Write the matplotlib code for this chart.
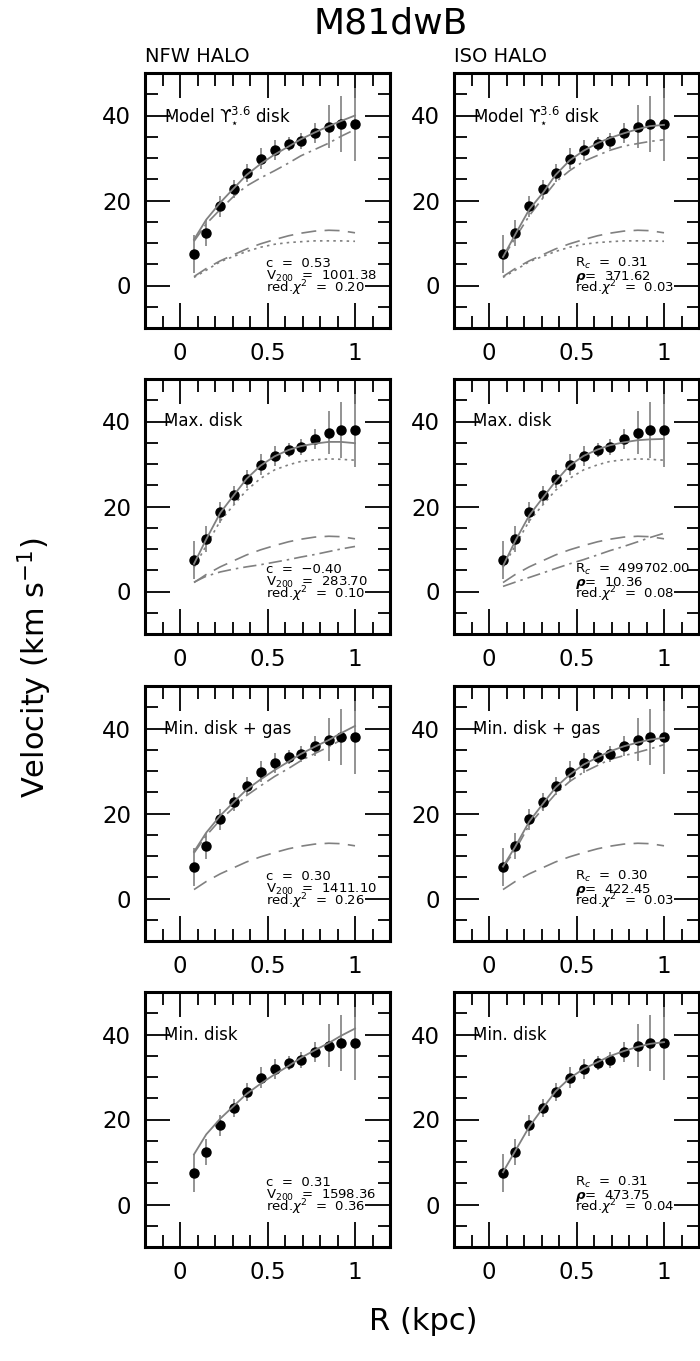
import matplotlib
matplotlib.use("Agg")
import matplotlib.pyplot as plt
import numpy as np

# observed rotation curve
r_kpc = [0.08, 0.15, 0.23, 0.31, 0.38, 0.46, 0.54, 0.62, 0.69, 0.77, 0.85, 0.92, 1.00]
v_obs = [7.5, 12.3, 18.6, 22.7, 26.5, 29.8, 31.9, 33.3, 34.0, 35.9, 37.4, 38.1, 37.9]
v_err = [4.5, 3.0, 2.4, 2.2, 2.2, 2.5, 2.4, 1.7, 1.8, 2.3, 5.0, 6.6, 8.6]

# baryons
v_gas = [2.1, 4.0, 5.8, 7.3, 8.6, 9.8, 10.8, 11.7, 12.3, 12.8, 13.0, 12.9, 12.4]
v_disk_model = [1.9, 3.6, 5.6, 6.9, 8.0, 9.0, 9.7, 10.1, 10.3, 10.5, 10.5, 10.5, 10.4]
v_disk_max = [5.7, 10.8, 16.6, 20.5, 23.8, 26.6, 28.6, 29.8, 30.6, 31.0, 31.2, 31.1, 30.9]

# NFW fits
nfw_model_halo = [10.4, 14.5, 17.9, 21.1, 23.4, 25.3, 27.0, 28.8, 30.5, 32.0, 33.5, 35.1, 36.7]
nfw_model_total = [10.8, 15.5, 19.5, 23.0, 26.0, 28.6, 30.8, 32.7, 34.4, 36.0, 37.5, 38.7, 40.0]
nfw_max_halo = [2.2, 3.6, 4.6, 5.3, 5.8, 6.3, 6.9, 7.5, 8.1, 8.7, 9.4, 10.0, 10.6]
nfw_max_total = [6.5, 12.3, 18.5, 22.8, 26.5, 29.6, 31.8, 33.3, 34.2, 34.8, 35.2, 35.2, 34.9]
nfw_gas_halo = [10.7, 14.8, 18.5, 21.5, 24.2, 26.5, 28.7, 30.6, 32.4, 34.1, 35.7, 37.3, 38.8]
nfw_gas_total = [11.0, 15.5, 19.5, 22.8, 25.6, 28.0, 30.2, 32.2, 34.0, 35.7, 37.3, 38.9, 40.6]
nfw_min_total = [11.8, 16.5, 20.2, 23.3, 26.0, 28.4, 30.6, 32.6, 34.5, 36.3, 38.0, 39.7, 41.4]

# ISO fits
iso_model_halo = [6.5, 11.2, 16.4, 20.7, 24.3, 27.0, 29.2, 30.6, 31.8, 32.8, 33.4, 33.9, 34.3]
iso_model_total = [6.7, 12.0, 17.9, 21.9, 26.0, 29.4, 31.7, 33.5, 34.7, 35.8, 36.8, 37.5, 37.8]
iso_max_halo = [1.2, 2.2, 3.3, 4.4, 5.4, 6.5, 7.5, 8.6, 9.6, 10.6, 11.7, 12.7, 13.7]
iso_max_total = [6.0, 11.9, 17.9, 22.2, 25.9, 29.6, 31.9, 33.4, 34.4, 35.1, 35.6, 35.8, 35.9]
iso_gas_halo = [7.3, 11.4, 17.3, 21.3, 24.6, 27.5, 29.7, 31.3, 32.7, 33.6, 34.4, 35.2, 36.2]
iso_gas_total = [7.5, 12.2, 18.1, 22.4, 26.1, 29.1, 31.5, 33.2, 34.6, 35.8, 36.7, 37.4, 37.8]
iso_min_total = [7.6, 12.6, 18.3, 22.8, 26.6, 29.7, 31.9, 33.5, 34.9, 36.1, 37.1, 37.8, 38.2]

row_labels = [r"Model $\mathrm{ϒ}_{\star}^{3.6}$ disk", "Max. disk", "Min. disk + gas", "Min. disk"]

nfw_c = ["0.53", "\u22120.40", "0.30", "0.31"]
nfw_v200 = ["1001.38", "283.70", "1411.10", "1598.36"]
nfw_chi2 = ["0.20", "0.10", "0.26", "0.36"]
iso_rc = ["0.31", "499702.00", "0.30", "0.31"]
iso_rho = ["371.62", "10.36", "422.45", "473.75"]
iso_chi2 = ["0.03", "0.08", "0.03", "0.04"]

GREY = "#808080"
W, H = 700, 1361
fig = plt.figure(figsize=(W / 100, H / 100), dpi=100)

row_tops = [73, 379, 686, 992]
col_lefts = [145, 454]
pw, ph = 245, 255

# per panel: (halo, total, disk, gas)
nfw_rows = [(nfw_model_halo, nfw_model_total, v_disk_model, v_gas),
            (nfw_max_halo, nfw_max_total, v_disk_max, v_gas),
            (nfw_gas_halo, nfw_gas_total, None, v_gas),
            (None, nfw_min_total, None, None)]
iso_rows = [(iso_model_halo, iso_model_total, v_disk_model, v_gas),
            (iso_max_halo, iso_max_total, v_disk_max, v_gas),
            (iso_gas_halo, iso_gas_total, None, v_gas),
            (None, iso_min_total, None, None)]


def draw_panel(ax, curves, label, params):
    halo, total, disk, gas = curves
    if disk is not None:
        ax.plot(r_kpc, disk, color=GREY, lw=1.2, dashes=(1.5, 2.5))
    if gas is not None:
        ax.plot(r_kpc, gas, color=GREY, lw=1.2, dashes=(9, 5))
    if halo is not None:
        ax.plot(r_kpc, halo, color=GREY, lw=1.2, dashes=(8, 3, 1.5, 3))
    ax.errorbar(r_kpc, v_obs, yerr=v_err, fmt="o", color="black", ms=6.5,
                ecolor=GREY, elinewidth=1.2, capsize=0, zorder=3)
    ax.plot(r_kpc, total, color=GREY, lw=1.3, zorder=4)

    ax.set_xlim(-0.2, 1.2)
    ax.set_ylim(-10, 50)
    ax.set_xticks([0, 0.5, 1])
    ax.set_xticklabels(["0", "0.5", "1"])
    ax.set_xticks(np.arange(-0.1, 1.2, 0.1), minor=True)
    ax.set_yticks([0, 20, 40])
    ax.set_yticks(np.arange(-5, 50, 5), minor=True)
    ax.tick_params(which="both", direction="in", top=True, right=True, width=1.3)
    ax.tick_params(which="major", length=18, labelsize=16.5, pad=10)
    ax.tick_params(which="minor", length=9)
    for s in ax.spines.values():
        s.set_linewidth(2.2)

    ax.text(-0.09, 40, label, fontsize=12, va="center", ha="left")
    for yb, t in zip([4.4, 1.4, -1.7], params):
        ax.text(0.49, yb, t, fontsize=9.5, va="baseline", ha="left", clip_on=False)


for i in range(4):
    for j, rows in enumerate([nfw_rows, iso_rows]):
        ax = fig.add_axes([col_lefts[j] / W, 1 - (row_tops[i] + ph) / H, pw / W, ph / H])
        if j == 0:
            params = ["c  =  " + nfw_c[i], r"V$_{200}$  =  " + nfw_v200[i],
                      r"red.$\chi^2$  =  " + nfw_chi2[i]]
        else:
            params = [r"R$_c$  =  " + iso_rc[i], r"$\boldsymbol{\rho}$=  " + iso_rho[i],
                      r"red.$\chi^2$  =  " + iso_chi2[i]]
        draw_panel(ax, rows[i], row_labels[i], params)

fig.text(391 / W, 1 - 24 / H, "M81dwB", fontsize=26, ha="center", va="center")
fig.text(145 / W, 1 - 57 / H, "NFW HALO", fontsize=14, ha="left", va="center")
fig.text(454 / W, 1 - 57 / H, "ISO HALO", fontsize=14, ha="left", va="center")
fig.text(35 / W, 1 - 668 / H, r"Velocity (km s$^{-1}$)", fontsize=22, rotation=90,
         ha="center", va="center")
fig.text(423 / W, 1 - 1322 / H, "R (kpc)", fontsize=22, ha="center", va="center")

fig.savefig("out.png", dpi=100)
